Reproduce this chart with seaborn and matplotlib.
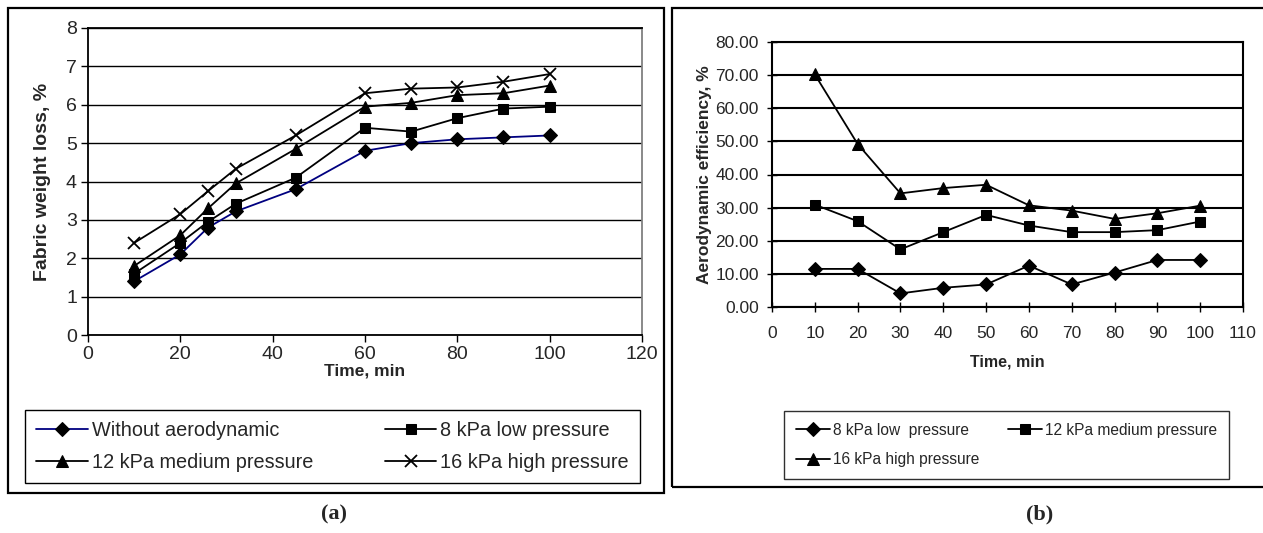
import matplotlib
matplotlib.use("Agg")
import matplotlib.pyplot as plt
import seaborn as sns
import pandas as pd
from matplotlib.patches import Rectangle

# ---------------- data ----------------
time_a = [10, 20, 26, 32, 45, 60, 70, 80, 90, 100]
without_aero = [1.4, 2.1, 2.8, 3.22, 3.8, 4.8, 5.0, 5.1, 5.15, 5.2]
low_a = [1.6, 2.4, 2.95, 3.42, 4.1, 5.4, 5.3, 5.65, 5.9, 5.95]
med_a = [1.8, 2.6, 3.3, 3.95, 4.85, 5.95, 6.05, 6.25, 6.3, 6.5]
high_a = [2.4, 3.15, 3.75, 4.33, 5.2, 6.3, 6.42, 6.45, 6.6, 6.8]
labels_a = ["Without aerodynamic", "8 kPa low pressure",
            "12 kPa medium pressure", "16 kPa high pressure"]

time_b = [10, 20, 30, 40, 50, 60, 70, 80, 90, 100]
low_b = [11.5, 11.5, 4.1, 5.8, 6.8, 12.5, 6.8, 10.4, 14.2, 14.2]
med_b = [30.9, 25.9, 17.4, 22.6, 27.8, 24.6, 22.6, 22.6, 23.2, 25.8]
high_b = [70.2, 49.2, 34.3, 35.9, 36.9, 30.7, 29.1, 26.6, 28.3, 30.6]
labels_b = ["8 kPa low  pressure", "12 kPa medium pressure", "16 kPa high pressure"]

xticks_a = [0, 20, 40, 60, 80, 100, 120]
yticks_a = [0, 1, 2, 3, 4, 5, 6, 7, 8]
xticks_b = list(range(0, 111, 10))
yticks_b = [0, 10, 20, 30, 40, 50, 60, 70, 80]

# ---------------- style ----------------
sns.set_theme(style="white")
plt.rcParams["font.family"] = ["Liberation Sans", "DejaVu Sans"]
SANS = ["Liberation Sans", "DejaVu Sans"]

W, H = 1263, 533
fig = plt.figure(figsize=(W / 100, H / 100), dpi=100)
fig.patch.set_facecolor("white")


def fx(px):
    return px / W


def fy(py):
    return 1 - py / H


# panel frames
fig.add_artist(Rectangle((fx(8), fy(493)), fx(664) - fx(8), fy(8) - fy(493),
                         transform=fig.transFigure, fill=False, ec="black", lw=1.6))
fig.add_artist(Rectangle((fx(672), fy(487)), fx(1300) - fx(672), fy(8) - fy(487),
                         transform=fig.transFigure, fill=False, ec="black", lw=1.6))

# ---------------- panel (a) ----------------
axa = fig.add_axes([fx(88), fy(335), fx(642) - fx(88), fy(28) - fy(335)])
dfa = pd.DataFrame({"t": time_a, "w": without_aero, "l": low_a, "m": med_a, "h": high_a})
sns.lineplot(data=dfa, x="t", y="w", ax=axa, color="#000080", lw=1.3, marker="D",
             markersize=7, markerfacecolor="black", markeredgecolor="black", label=labels_a[0])
sns.lineplot(data=dfa, x="t", y="l", ax=axa, color="black", lw=1.3, marker="s",
             markersize=7, markerfacecolor="black", markeredgecolor="black", label=labels_a[1])
sns.lineplot(data=dfa, x="t", y="m", ax=axa, color="black", lw=1.3, marker="^",
             markersize=8.5, markerfacecolor="black", markeredgecolor="black", label=labels_a[2])
sns.lineplot(data=dfa, x="t", y="h", ax=axa, color="black", lw=1.3, marker="x",
             markersize=9, markeredgewidth=1.3, markeredgecolor="black", label=labels_a[3])

axa.set_xlim(0, 120)
axa.set_ylim(0, 8)
axa.set_xticks(xticks_a)
axa.set_yticks(yticks_a)
axa.yaxis.grid(True, color="black", lw=1.0)
axa.set_axisbelow(True)
axa.spines["right"].set_color("#808080")
axa.spines["right"].set_linewidth(1.3)
for s in ["left", "bottom", "top"]:
    axa.spines[s].set_color("black")
    axa.spines[s].set_linewidth(1.3)
axa.tick_params(axis="both", direction="out", length=5, width=1.0, color="black",
                labelsize=14, pad=3, bottom=True, left=True)
axa.set_xlabel("Time, min", fontsize=12.5, fontweight="bold", labelpad=0)
axa.set_ylabel("Fabric weight loss, %", fontsize=14, fontweight="bold")
axa.yaxis.set_label_coords(-0.066, 0.5)
ha, la = axa.get_legend_handles_labels()
axa.get_legend().remove()
order_a = [0, 2, 1, 3]
fig.legend([ha[i] for i in order_a], [la[i] for i in order_a], ncol=2,
           loc="upper left",
           bbox_to_anchor=(fx(25), fy(486), fx(640) - fx(25), fy(410) - fy(486)),
           mode="expand", frameon=True, fancybox=False, edgecolor="black", framealpha=1,
           prop={"family": SANS, "size": 14.3}, handlelength=2.6, handletextpad=0.2,
           labelspacing=0.65, borderpad=0.55, borderaxespad=0, columnspacing=1.0)

# ---------------- panel (b) ----------------
axb = fig.add_axes([fx(772), fy(307), fx(1243) - fx(772), fy(42) - fy(307)])
dfb = pd.DataFrame({"t": time_b, "l": low_b, "m": med_b, "h": high_b})
sns.lineplot(data=dfb, x="t", y="l", ax=axb, color="black", lw=1.3, marker="D",
             markersize=7, markerfacecolor="black", markeredgecolor="black", label=labels_b[0])
sns.lineplot(data=dfb, x="t", y="m", ax=axb, color="black", lw=1.3, marker="s",
             markersize=7, markerfacecolor="black", markeredgecolor="black", label=labels_b[1])
sns.lineplot(data=dfb, x="t", y="h", ax=axb, color="black", lw=1.3, marker="^",
             markersize=8.5, markerfacecolor="black", markeredgecolor="black", label=labels_b[2])
axb.set_xlim(0, 110)
axb.set_ylim(0, 80)
axb.set_xticks(xticks_b)
axb.set_yticks(yticks_b)
axb.set_yticklabels([f"{v:.2f}" for v in yticks_b])
axb.yaxis.grid(True, color="black", lw=1.5)
axb.set_axisbelow(True)
for s in ["top", "left", "bottom", "right"]:
    axb.spines[s].set_color("black")
    axb.spines[s].set_linewidth(1.5)
axb.tick_params(axis="both", direction="inout", length=7, width=1.0, color="black",
                labelsize=12.5, bottom=True, left=True)
axb.tick_params(axis="x", pad=10)
axb.tick_params(axis="y", pad=6)
axb.set_xlabel("Time, min", fontsize=11.5, fontweight="bold", labelpad=10)
axb.set_ylabel("Aerodynamic efficiency, %", fontsize=12.5, fontweight="bold")
axb.yaxis.set_label_coords(-0.128, 0.5)
hb, lb = axb.get_legend_handles_labels()
axb.get_legend().remove()
order_b = [0, 2, 1]
fig.legend([hb[i] for i in order_b], [lb[i] for i in order_b], ncol=2,
           loc="upper left",
           bbox_to_anchor=(fx(784), fy(479), fx(1229) - fx(784), fy(411) - fy(479)),
           mode="expand", frameon=True, fancybox=False, edgecolor="#303030", framealpha=1,
           prop={"family": SANS, "size": 11.2}, handlelength=2.2, handletextpad=0.2,
           labelspacing=0.95, borderpad=0.75, borderaxespad=0, columnspacing=1.0)

# panel captions
fig.text(fx(334), fy(514), "(a)", ha="center", va="center", fontsize=16, fontweight="bold",
         family=["Liberation Serif", "DejaVu Serif"])
fig.text(fx(1040), fy(514), "(b)", ha="center", va="center", fontsize=16, fontweight="bold",
         family=["Liberation Serif", "DejaVu Serif"])

fig.savefig("out.png", dpi=100, facecolor="white")
